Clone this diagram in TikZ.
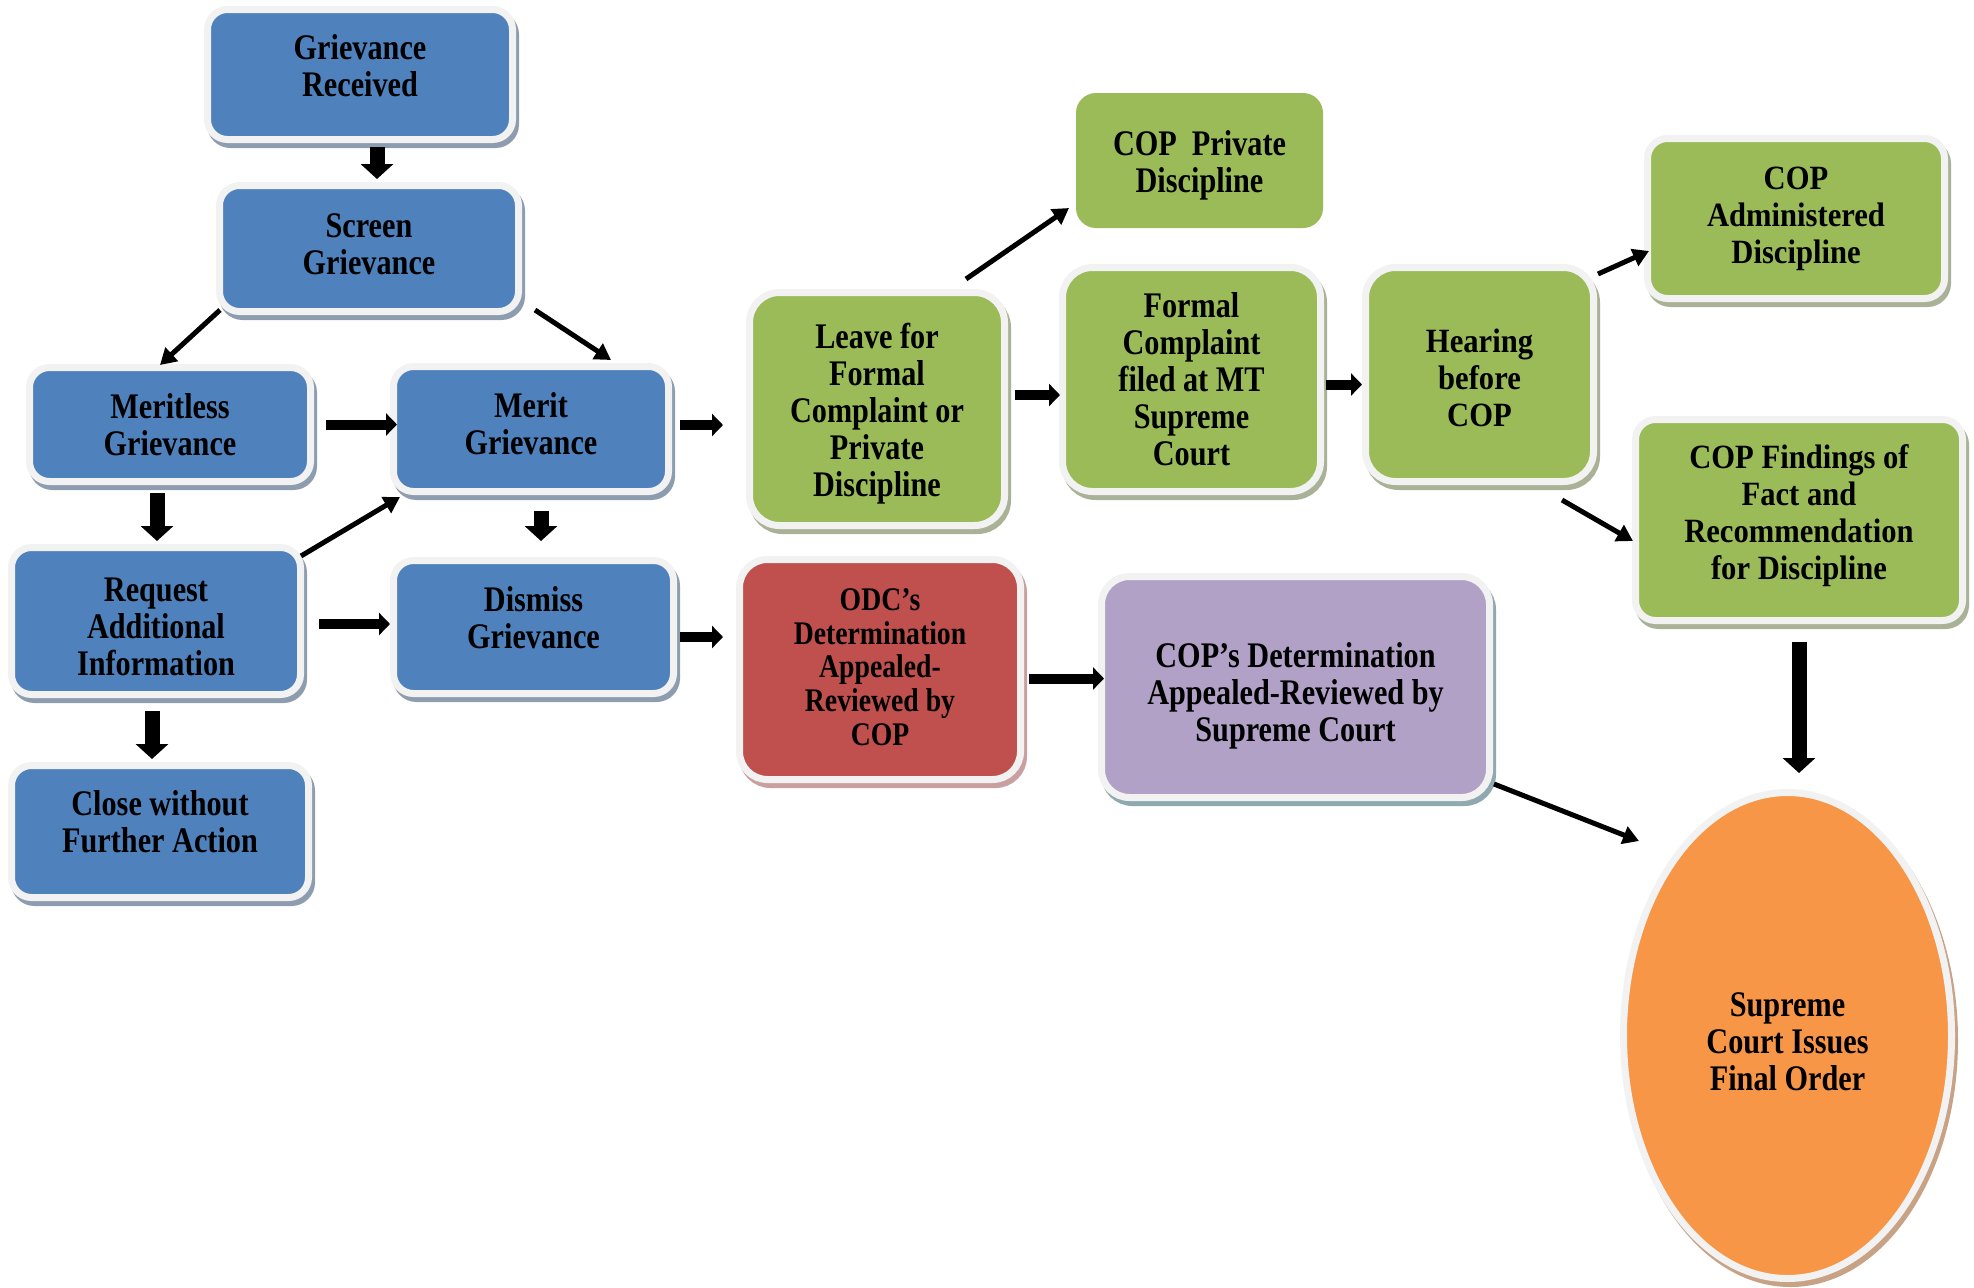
\documentclass[tikz,border=0pt]{standalone}
\usepackage{fontspec}
\setmainfont{Liberation Serif}
\newfontfamily\narrowfont{Liberation Serif}[FakeStretch=0.84]
\newfontfamily\wideserif{Liberation Serif}[FakeStretch=0.9]
\usetikzlibrary{arrows.meta,shapes.geometric}

\definecolor{gblue}{HTML}{4F81BD}
\definecolor{ggreen}{HTML}{9BBB59}
\definecolor{gred}{HTML}{C0504D}
\definecolor{gpurple}{HTML}{B2A1C7}
\definecolor{gorange}{HTML}{F79646}
\definecolor{gframe}{HTML}{F2F2F2}
\definecolor{sblue}{HTML}{8E9CB0}
\definecolor{sgreen}{HTML}{A9B296}
\definecolor{sred}{HTML}{C9A09F}
\definecolor{spurple}{HTML}{90A8AF}
\definecolor{sorange}{HTML}{C8A285}

\tikzset{
  stagebox/.style={rectangle, rounded corners=20pt, draw=gframe, line width=7pt,
    align=center, inner sep=2pt, font=\narrowfont\bfseries\fontsize{36}{37}\selectfont},
  boxshadow/.style={preaction={fill=#1, draw=#1, line width=7pt,
    transform canvas={xshift=3pt,yshift=-5pt}}},
  bluebox/.style={stagebox, fill=gblue, boxshadow=sblue},
  greenbox/.style={stagebox, fill=ggreen, boxshadow=sgreen},
  widebox/.style={greenbox, font=\wideserif\bfseries\fontsize{34}{37}\selectfont},
  flatbox/.style={stagebox, draw=none, fill=ggreen, outer sep=0pt},
  vblock/.style={line width=15pt, -{Triangle[length=15pt,width=32pt]}},
  hblock/.style={line width=10pt, -{Triangle[length=11pt,width=22pt]}},
  slant/.style={line width=5pt, -{Triangle[length=16pt,width=18pt]}},
}

\begin{document}
\begin{tikzpicture}[x=1pt,y=-1pt]
  \useasboundingbox (0,0) rectangle (1974,1288);

  % screening stage
  \node[bluebox, minimum width=305pt, minimum height=130pt, text depth=18pt] (recv) at (360,74.5) {Grievance\\Received};
  \node[bluebox, minimum width=299pt, minimum height=126pt, text depth=8pt] (screen) at (369,248.5) {Screen\\Grievance};
  \node[bluebox, minimum width=281pt, minimum height=114pt] (merless) at (170,424.5) {Meritless\\Grievance};
  \node[bluebox, minimum width=275pt, minimum height=125pt, text depth=10pt] (merit) at (531,429) {Merit\\Grievance};
  \node[bluebox, minimum width=289pt, minimum height=147pt, text height=108pt, text depth=0pt] (request) at (156,621) {Request\\Additional\\Information};
  \node[bluebox, minimum width=280pt, minimum height=133pt, text depth=18pt] (dismiss) at (533.5,627) {Dismiss\\Grievance};
  \node[bluebox, minimum width=297pt, minimum height=132pt, text depth=20pt] (close) at (160,831.5) {Close without\\Further Action};

  % discipline stage
  \node[greenbox, rounded corners=30pt, minimum width=255pt, minimum height=233pt, text height=182.5pt, text depth=8pt] (leave) at (877,409)
    {Leave for\\Formal\\Complaint or\\Private\\Discipline};
  \node[flatbox, minimum width=247pt, minimum height=135pt, text height=71pt, text depth=8pt] (private) at (1199.5,160.5) {COP\ \ Private\\Discipline};
  \node[greenbox, rounded corners=30pt, minimum width=258pt, minimum height=224pt] (formal) at (1191.5,379.5)
    {Formal\\Complaint\\filed at MT\\Supreme\\Court};
  \node[widebox, rounded corners=30pt, minimum width=228pt, minimum height=214pt, text height=104.5pt, text depth=0pt] (hearing) at (1479.5,374.5)
    {Hearing\\before\\COP};
  \node[widebox, minimum width=297pt, minimum height=160pt] (admin) at (1796,218.5)
    {COP\\Administered\\Discipline};
  \node[widebox, minimum width=327pt, minimum height=201pt, text depth=16pt] (findings) at (1799,520)
    {COP Findings of\\Fact and\\Recommendation\\for Discipline};

  % appeals
  \node[stagebox, fill=gred, boxshadow=sred, rounded corners=28pt, minimum width=281pt, minimum height=220pt, text depth=5pt,
    font=\narrowfont\bfseries\fontsize{33}{33.7}\selectfont] (odc) at (880,669.5)
    {ODC’s\\Determination\\Appealed-\\Reviewed by\\COP};
  \node[stagebox, fill=gpurple, boxshadow=spurple, rounded corners=28pt, minimum width=388pt, minimum height=221pt,
    text height=117pt, text depth=8pt] (copdet) at (1295.5,687)
    {COP’s Determination\\Appealed-Reviewed by\\Supreme Court};
  \node[stagebox, ellipse, sharp corners, fill=gorange, boxshadow=sorange, minimum width=328pt, minimum height=486pt,
    text height=110pt, text depth=0pt] (final) at (1787.5,1035.5)
    {Supreme\\Court Issues\\Final Order};

  % connectors
  \draw[vblock, shorten <=4pt, shorten >=3pt] ([xshift=17pt]recv.south) -- ([xshift=17pt]recv.south |- screen.north);
  \draw[slant] ([shift={(4,-5)}]screen.south west) -- ([shift={(-10,1)}]merless.north);
  \draw[slant] ([shift={(13,-5)}]screen.south east) -- ([shift={(80,-3)}]merit.north);
  \draw[hblock, shorten <=12pt, shorten >=-7pt] (merless.east) -- (merless.east -| merit.west);
  \draw[vblock, shorten <=8pt, shorten >=3pt] ([xshift=-13pt]merless.south) -- ([xshift=-13pt]merless.south |- request.north);
  \draw[slant] ([shift={(-3,12)}]request.north east) -- ([shift={(10,2)}]merit.south west);
  \draw[vblock, shorten <=16pt, shorten >=16pt] ([xshift=10pt]merit.south) -- ([xshift=10pt]merit.south |- dismiss.north);
  \draw[hblock, shorten <=15pt] ([yshift=-3pt]request.east) -- ([yshift=-3pt]request.east -| dismiss.west);
  \draw[vblock, shorten <=13pt, shorten >=3pt] ([xshift=-4pt]request.south) -- ([xshift=-4pt]request.south |- close.north);
  \draw[hblock, shorten <=8pt, shorten >=23pt] ([yshift=4pt]merit.east) -- ([yshift=4pt]merit.east -| leave.west);
  \draw[hblock, shorten <=3pt, shorten >=13pt] ([yshift=-10pt]dismiss.east) -- ([yshift=-10pt]dismiss.east -| odc.west);
  \draw[slant] ([shift={(89,-10)}]leave.north) -- ([shift={(-7,-20)}]private.south west);
  \draw[hblock, shorten <=7pt, shorten >=-1pt] ([yshift=14pt]leave.east) -- ([yshift=14pt]leave.east -| formal.west);
  \draw[hblock, shorten <=2pt] ([yshift=-5pt]formal.east) -- ([yshift=-5pt]formal.east -| hearing.west);
  \draw[slant] ([shift={(1,10)}]hearing.north east) -- ([shift={(5,32.5)}]admin.west);
  \draw[slant] ([shift={(-35,15)}]hearing.south east) -- ([shift={(1,21)}]findings.west);
  \draw[vblock, shorten <=18pt, shorten >=16pt] (findings.south) -- (findings.south |- final.north);
  \draw[hblock, shorten <=5pt, shorten >=-6pt] ([yshift=-9pt]odc.east) -- ([yshift=-9pt]odc.east -| copdet.west);
  \draw[slant] ([shift={(1,-17)}]copdet.south east) -- ([shift={(-148.5,52)}]final.north);
\end{tikzpicture}
\end{document}
